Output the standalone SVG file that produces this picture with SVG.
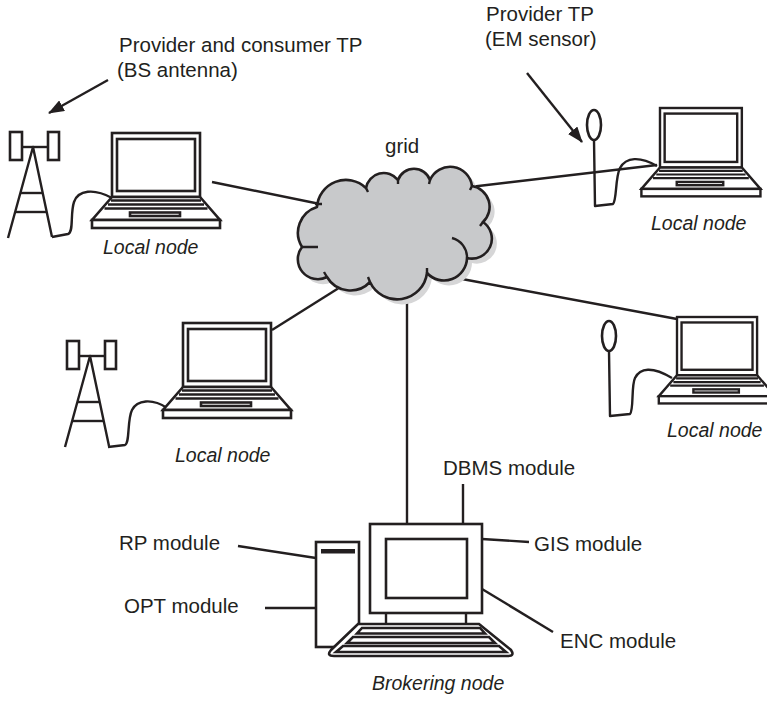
<svg xmlns="http://www.w3.org/2000/svg" xmlns:xlink="http://www.w3.org/1999/xlink" width="767" height="701" viewBox="0 0 767 701">
  <style>
    .ln { fill: none; stroke: #231f20; stroke-width: 2.4; stroke-linecap: butt; stroke-linejoin: round; }
    .box { fill: #ffffff; stroke: #231f20; stroke-width: 2.6; stroke-linejoin: miter; }
    .lbl { font-family: "Liberation Sans", Arial, sans-serif; font-size: 20.5px; fill: #231f20; }
    .it { font-family: "Liberation Sans", Arial, sans-serif; font-size: 19.5px; font-style: italic; fill: #231f20; }
    .cloud { fill: #c8c9cb; stroke: #231f20; stroke-width: 2.6; stroke-linejoin: round; }
    .shadow { fill: #d6d6d7; stroke: none; }
  </style>
  <defs>
    <marker id="arrow" markerWidth="16" markerHeight="12" refX="15" refY="6" orient="auto" markerUnits="userSpaceOnUse">
      <path d="M0,0 L16,6 L0,12 Z" fill="#231f20"/>
    </marker>
    <!-- laptop: screen origin at top-left of the lid -->
    <g id="laptop">
      <rect class="box" x="0" y="0" width="88" height="64"/>
      <rect class="box" x="5" y="6" width="78" height="52"/>
      <polygon class="box" points="0,64 88,64 108,87 -20,87"/>
      <line class="ln" x1="-1" y1="67.5" x2="89" y2="67.5" stroke-width="2.2"/>
      <line class="ln" x1="-4" y1="71.5" x2="92" y2="71.5" stroke-width="2.2"/>
      <line class="ln" x1="-7.5" y1="75.5" x2="95.5" y2="75.5" stroke-width="2.2"/>
      <rect class="box" x="18" y="79.5" width="50" height="3.5" stroke-width="2"/>
      <rect class="box" x="-20" y="87" width="128" height="8"/>
    </g>
    <!-- base-station mast: origin at the apex -->
    <g id="mast">
      <rect class="box" x="-23" y="-15" width="12" height="28"/>
      <rect class="box" x="15" y="-15" width="11" height="28"/>
      <line class="ln" x1="-11" y1="0" x2="15" y2="0"/>
      <path class="ln" d="M-25,91 L0,0 L19,90"/>
      <line class="ln" x1="-12.6" y1="46" x2="9.7" y2="46"/>
      <line class="ln" x1="-17.9" y1="65" x2="13.7" y2="65"/>
    </g>
  </defs>

  <!-- connectors -->
  <g id="connectors">
    <line class="ln" x1="212" y1="182" x2="320" y2="204"/>
    <line class="ln" x1="470" y1="187" x2="657" y2="165"/>
    <line class="ln" x1="462" y1="279" x2="677" y2="319"/>
    <line class="ln" x1="342" y1="286" x2="272" y2="330"/>
    <line class="ln" x1="407" y1="296" x2="407" y2="524"/>
    <line class="ln" x1="463" y1="484" x2="463" y2="524"/>
    <line class="ln" x1="482" y1="539" x2="529" y2="542"/>
    <line class="ln" x1="482" y1="589" x2="553" y2="632"/>
    <line class="ln" x1="238" y1="546" x2="316" y2="558"/>
    <line class="ln" x1="265" y1="608" x2="316" y2="608"/>
    <line class="ln" x1="108" y1="80" x2="49" y2="113" marker-end="url(#arrow)"/>
    <line class="ln" x1="527" y1="73" x2="582" y2="142" marker-end="url(#arrow)"/>
  </g>

  <!-- grid cloud -->
  <g id="grid">
    <path class="shadow" transform="translate(5,5)" d="M317,207 A29,29 0 0 1 366,188 A18,18 0 0 1 398,180 A17,17 0 0 1 430,180 A22,22 0 0 1 472,186 A21,21 0 0 1 483,222 A20,20 0 0 1 467,258 A23,23 0 0 1 427,273 A30,30 0 0 1 370,282 A27,27 0 0 1 327,277 A20,20 0 0 1 302,247 A27,27 0 0 1 317,207 Z"/>
    <path class="cloud" d="M317,207 A29,29 0 0 1 366,188 A18,18 0 0 1 398,180 A17,17 0 0 1 430,180 A22,22 0 0 1 472,186 A21,21 0 0 1 483,222 A20,20 0 0 1 467,258 A23,23 0 0 1 427,273 A30,30 0 0 1 370,282 A27,27 0 0 1 327,277 A20,20 0 0 1 302,247 A27,27 0 0 1 317,207 Z"/>
    <path class="ln" d="M315,204 L322,204 M366,188 L368,192 M398,180 L398,184 M430,180 L429,184 M472,186 L470,190 M483,222 L480,226 M452,238 A20,20 0 0 1 467,258 M427,273 L427,268 M370,282 L368,277 M327,277 L324,272 M302,247 L318,247" stroke-width="2.4"/>
    <text class="lbl" x="385" y="153">grid</text>
  </g>

  <!-- top-left base station and its local node -->
  <g id="bs-antenna-1">
    <use xlink:href="#mast" href="#mast" transform="translate(33,147)"/>
    <path class="ln" d="M52,237 L68,234 C74,232 70,214 74,202 C78,190 94,188 112,198"/>
  </g>
  <g id="local-node-1">
    <use xlink:href="#laptop" href="#laptop" transform="translate(112,133)"/>
    <text class="it" x="103" y="254">Local node</text>
  </g>

  <!-- top-right EM sensor and its local node -->
  <g id="em-sensor-1">
    <ellipse cx="594" cy="125" rx="7" ry="15" class="box"/>
    <path class="ln" d="M594,140 L595,206 L613,204 C617,200 615,178 620,168 C626,157 640,156 657,166"/>
  </g>
  <g id="local-node-2">
    <use xlink:href="#laptop" href="#laptop" transform="translate(660,108) scale(0.93)"/>
    <text class="it" x="651" y="230">Local node</text>
  </g>

  <!-- middle-left base station and its local node -->
  <g id="bs-antenna-2">
    <use xlink:href="#mast" href="#mast" transform="translate(90,356)"/>
    <path class="ln" d="M108,447 L125,445 C130,443 127,420 132,410 C137,400 152,398 167,408"/>
  </g>
  <g id="local-node-3">
    <use xlink:href="#laptop" href="#laptop" transform="translate(183,323)"/>
    <text class="it" x="175" y="462">Local node</text>
  </g>

  <!-- lower-right EM sensor and its local node -->
  <g id="em-sensor-2">
    <ellipse cx="609" cy="336" rx="7" ry="15" class="box"/>
    <path class="ln" d="M609,351 L610,416 L630,414 C634,410 631,386 635,378 C640,368 652,366 672,378"/>
  </g>
  <g id="local-node-4">
    <use xlink:href="#laptop" href="#laptop" transform="translate(677,317) scale(0.91)"/>
    <text class="it" x="667" y="437">Local node</text>
  </g>

  <!-- brokering node: tower case, monitor, keyboard -->
  <g id="brokering-node">
    <rect class="box" x="316" y="542" width="43" height="105"/>
    <rect x="321" y="549" width="34" height="4.5" fill="#231f20"/>
    <rect class="box" x="370" y="524" width="112" height="89" stroke-width="3"/>
    <rect class="box" x="386" y="539" width="81" height="59" stroke-width="3"/>
    <line class="ln" x1="386" y1="613" x2="386" y2="624" stroke-width="2.6"/>
    <line class="ln" x1="466" y1="613" x2="466" y2="624" stroke-width="2.6"/>
    <path class="box" stroke-width="2.8" stroke-linejoin="round" d="M358,624 L479,624 L511,650 Q515,656 508,656 L334,656 Q326,656 331,650 Z"/>
    <path class="box" stroke-width="2.4" stroke-linejoin="round" d="M362,628 L480,628 L485,633.5 L357,633.5 Z"/>
    <path class="box" stroke-width="2.4" stroke-linejoin="round" d="M353,637 L489,637 L495,643 L347,643 Z"/>
    <path class="box" stroke-width="2.4" stroke-linejoin="round" d="M343,646 L499,646 L506,652 L336,652 Z"/>
    <text class="it" x="372" y="690">Brokering node</text>
  </g>

  <!-- labels -->
  <g id="labels">
    <text class="lbl" x="119" y="52">Provider and consumer TP</text>
    <text class="lbl" x="117" y="77">(BS antenna)</text>
    <text class="lbl" x="486" y="21">Provider TP</text>
    <text class="lbl" x="485" y="46">(EM sensor)</text>
    <text class="lbl" x="443" y="475">DBMS module</text>
    <text class="lbl" x="534" y="551">GIS module</text>
    <text class="lbl" x="119" y="550">RP module</text>
    <text class="lbl" x="124" y="613">OPT module</text>
    <text class="lbl" x="560" y="648">ENC module</text>
  </g>
</svg>
